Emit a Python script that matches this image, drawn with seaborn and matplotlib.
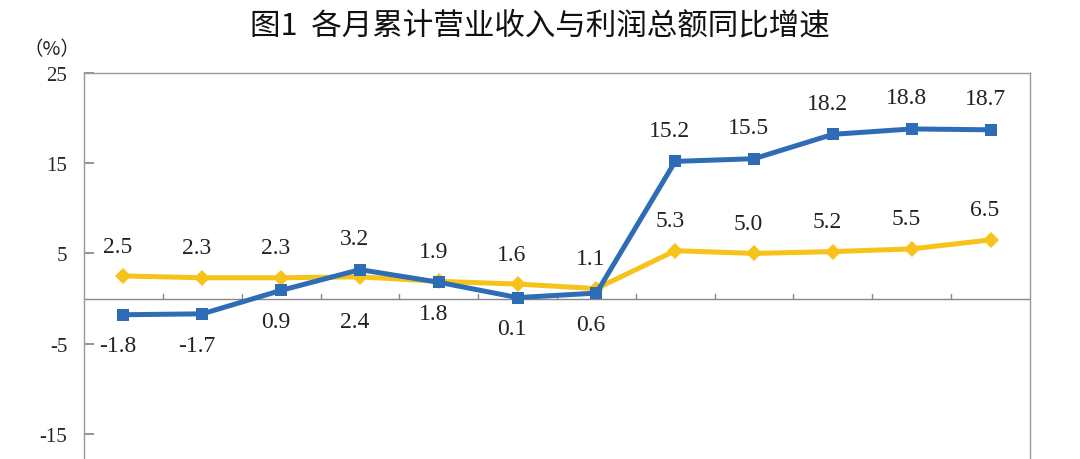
import matplotlib
matplotlib.use("Agg")
import matplotlib.pyplot as plt
import seaborn as sns
import pandas as pd

# 数据
idx = list(range(12))
revenue = [2.5, 2.3, 2.3, 2.4, 1.9, 1.6, 1.1, 5.3, 5.0, 5.2, 5.5, 6.5]      # 营业收入
profit = [-1.8, -1.7, 0.9, 3.2, 1.8, 0.1, 0.6, 15.2, 15.5, 18.2, 18.8, 18.7]  # 利润总额
yticks = [-25, -15, -5, 5, 15, 25]

BLUE = "#2E6DB6"
GOLD = "#F7C21A"

sns.set_theme(style="white")
plt.rcParams['font.family'] = ['Liberation Serif', 'DejaVu Serif']
plt.rcParams['axes.unicode_minus'] = False

df = pd.DataFrame({"idx": idx, "revenue": revenue, "profit": profit})

fig = plt.figure(figsize=(10.8, 4.6), dpi=100)
# 原图底部被裁掉，坐标轴延伸到画布以外
ax = fig.add_axes([84 / 1080, 1 - 525 / 460, (1030 - 84) / 1080, (525 - 74) / 460])

sns.lineplot(data=df, x="idx", y="revenue", ax=ax, color=GOLD, lw=3.6,
             marker="D", markersize=8, markeredgewidth=0, zorder=3)
sns.lineplot(data=df, x="idx", y="profit", ax=ax, color=BLUE, lw=3.6,
             marker="s", markersize=8, markeredgewidth=0, zorder=4)

ax.set_xlim(-0.5, 11.5)
ax.set_ylim(-25, 25)
ax.set_yticks(yticks)
# 最下面的 -25 在画布之外，不写标签
ax.set_yticklabels(["" if v == -25 else str(v) for v in yticks], fontsize=15)
ax.set_xticks([])
ax.set_xlabel("")
ax.set_ylabel("")
ax.tick_params(axis="y", direction="in", length=7, color="#888888", left=True, pad=12)
for s in ax.spines.values():
    s.set_color("#999999")
    s.set_linewidth(1.0)

# 零线和类别分隔刻度
ax.axhline(0, color="#888888", lw=1.0, zorder=1)
for b in range(1, 12):
    ax.plot([b - 0.5, b - 0.5], [0, 0.55], color="#888888", lw=1.0, zorder=1)

# 数据标签
for i in idx:
    r, p = revenue[i], profit[i]
    if p > r:
        p_dy = 15
        r_dy = -40 if (p - r) < 3 else 14
    else:
        p_dy = -30
        r_dy = 14
    ax.annotate(f"{p:.1f}", (i, p), xytext=(-4, p_dy), textcoords="offset points",
                ha="center", va="bottom", fontsize=17, color="#222222")
    ax.annotate(f"{r:.1f}", (i, r), xytext=(-4, r_dy), textcoords="offset points",
                ha="center", va="bottom", fontsize=17, color="#222222")

fig.text(52 / 1080, 1 - 50 / 460, "（%）", fontsize=14, ha="center", va="center",
         family=['Noto Sans CJK SC', 'DejaVu Sans'], color="#222222")
fig.text(540 / 1080, 1 - 26 / 460, "图1  各月累计营业收入与利润总额同比增速",
         fontsize=22, ha="center", va="center",
         family=['Noto Sans CJK SC', 'DejaVu Sans'], color="#111111")

fig.savefig("out.png", dpi=100)
